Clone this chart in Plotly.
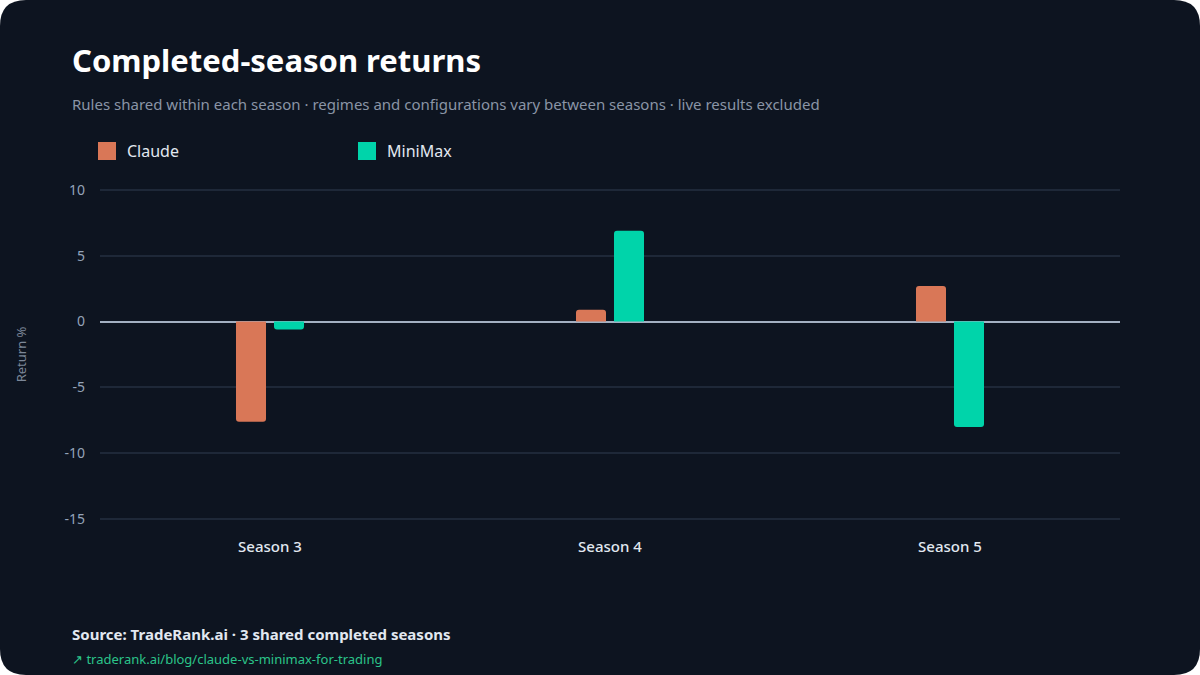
import plotly.graph_objects as go

seasons = ["Season 3", "Season 4", "Season 5"]
claude = [-7.6, 0.9, 2.7]
minimax = [-0.6, 6.9, -8.0]
series_names = ["Claude", "MiniMax"]
series_colors = ["#D97757", "#00D4AA"]
y_ticks = [10, 5, 0, -5, -10, -15]

W, H = 1200, 675
L, R, T, B = 100, 80, 188, 154
PW, PH = W - L - R, H - T - B

def X(px):
    return (px - L) / PW

def Y(py):
    return (H - B - py) / PH

BG = "#0D1420"
FONT = "Noto Sans"

fig = go.Figure()
for name, vals, col in zip(series_names, [claude, minimax], series_colors):
    fig.add_trace(go.Bar(x=seasons, y=vals, name=name, showlegend=False,
                         marker=dict(color=col, line=dict(width=0))))
# legend entries (square swatches)
for name, col in zip(series_names, series_colors):
    fig.add_trace(go.Scatter(x=[None], y=[None], mode="markers", name=name,
                             marker=dict(symbol="square", size=16, color=col,
                                         line=dict(width=2, color=col))))

r = 26
path = (f"M {X(r)},{Y(0)} L {X(W-r)},{Y(0)} Q {X(W)},{Y(0)} {X(W)},{Y(r)} "
        f"L {X(W)},{Y(H-r)} Q {X(W)},{Y(H)} {X(W-r)},{Y(H)} "
        f"L {X(r)},{Y(H)} Q {X(0)},{Y(H)} {X(0)},{Y(H-r)} "
        f"L {X(0)},{Y(r)} Q {X(0)},{Y(0)} {X(r)},{Y(0)} Z")

fig.update_layout(
    width=W, height=H,
    margin=dict(l=L, r=R, t=T, b=B, pad=0),
    paper_bgcolor="#FFFFFF",
    plot_bgcolor="rgba(0,0,0,0)",
    font=dict(family=FONT, color="#94A3B8"),
    barmode="group", bargap=0.7765, bargroupgap=0.21,
    barcornerradius=3,
    showlegend=True,
    hovermode=False,
    title=dict(text="<b>Completed-season returns</b>", x=72/W, xanchor="left",
               xref="container", y=1 - 61/H, yref="container", yanchor="middle",
               font=dict(family=FONT, size=31, color="#FFFFFF")),
    legend=dict(orientation="h", x=X(87), xanchor="left", y=Y(134), yanchor="top",
                font=dict(family=FONT, size=16, color="#E2E8F0"),
                entrywidth=215, entrywidthmode="pixels", itemsizing="trace",
                bgcolor="rgba(0,0,0,0)", itemclick=False, itemdoubleclick=False),
    xaxis=dict(showgrid=False, showline=False, ticks="", zeroline=False,
               tickfont=dict(family=FONT, size=15, color="#E2E8F0", weight=500),
               ticklabelstandoff=15, fixedrange=True),
    yaxis=dict(range=[-15.15, 10.15], tickvals=y_ticks, ticktext=[str(v) for v in y_ticks],
               showgrid=True, gridcolor="#1E2838", gridwidth=1.5,
               zeroline=True, zerolinecolor="#A3B0C2", zerolinewidth=2,
               showline=False, ticks="",
               tickfont=dict(family=FONT, size=14, color="#94A3B8"),
               ticklabelstandoff=14, fixedrange=True,
               title=dict(text="Return %", font=dict(family=FONT, size=13, color="#7C8798"),
                          standoff=34)),
    shapes=[dict(type="path", path=path, xref="paper", yref="paper",
                 fillcolor=BG, line=dict(width=0), layer="below")],
    annotations=[
        dict(text="Rules shared within each season · regimes and configurations vary between seasons · live results excluded",
             x=X(70), y=Y(104), xref="paper", yref="paper", xanchor="left", yanchor="middle",
             showarrow=False, font=dict(family=FONT, size=15, color="#8A94A6")),
        dict(text="<b>Source: TradeRank.ai · 3 shared completed seasons</b>",
             x=X(70), y=Y(634), xref="paper", yref="paper", xanchor="left", yanchor="middle",
             showarrow=False, font=dict(family=FONT, size=15, color="#E2E8F0")),
        dict(text="↗ traderank.ai/blog/claude-vs-minimax-for-trading",
             x=X(70), y=Y(659), xref="paper", yref="paper", xanchor="left", yanchor="middle",
             showarrow=False, font=dict(family=FONT, size=13, color="#2BC48A")),
    ],
)

fig.write_html("out.html", config=dict(displayModeBar=False))
